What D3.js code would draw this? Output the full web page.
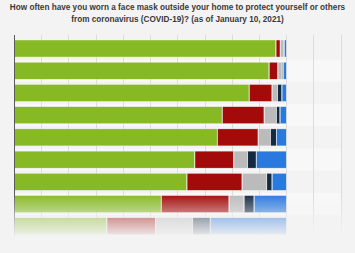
<!DOCTYPE html>
<html><head><meta charset="utf-8">
<script src="https://cdn.jsdelivr.net/npm/d3@7"></script>
<style>html,body{margin:0;padding:0;background:#f3f3f3;}svg{display:block;}</style>
</head><body><div id="chart"></div>
<script>
const titleLines = ["How often have you worn a face mask outside your home to protect yourself or others",
                    "from coronavirus (COVID-19)? (as of January 10, 2021)"];
const categories = ["Row 1","Row 2","Row 3","Row 4","Row 5","Row 6","Row 7","Row 8","Row 9"];
const seriesNames = ["Always","Frequently","Sometimes","Rarely","Not at all"];
const always     = [96.1, 93.6, 86.3, 76.4, 74.6, 66.3, 63.4, 54.0, 34.0];
const frequently = [1.6,  3.2,  8.4,  15.4, 15.0, 14.3, 20.3, 24.9, 17.9];
const sometimes  = [1.2,  1.6,  2.0,  4.5,  4.5,  5.1,  9.0,  5.5,  13.6];
const rarely     = [0.3,  0.4,  1.6,  1.3,  2.2,  3.2,  2.0,  3.7,  6.5];
const notAtAll   = [0.8,  1.2,  1.7,  2.4,  3.7,  11.1, 5.3,  11.9, 28.0];
const xTicks = [0,10,20,30,40,50,60,70,80,90,100,110,120];
const colors = ["#87b925","#a30b0b","#bbbbbb","#142a41","#2a79df"];

const W = 355, H = 253;
const svg = d3.select("#chart").append("svg").attr("width", W).attr("height", H);
const x = d3.scaleLinear().domain([0,120]).range([14, 340.7]);
const y = d3.scaleBand().domain(categories).range([37.4, 237.4]).paddingInner(0.235).paddingOuter(0.1175);
const step = y.step();

svg.append("rect").attr("width",W).attr("height",H).attr("fill","#f3f3f3");

// stripes
svg.append("g").selectAll("rect").data(categories).join("rect")
  .attr("x", x(0)).attr("width", x(120)-x(0))
  .attr("y", (d,i)=> 37.4 + i*step).attr("height", step)
  .attr("fill", (d,i)=> i%2 ? "#f8f8f8" : "#f3f3f3");

// gridlines
svg.append("g").selectAll("line").data(xTicks.slice(1)).join("line")
  .attr("x1", d=>Math.round(x(d))+0.5).attr("x2", d=>Math.round(x(d))+0.5)
  .attr("y1", 35).attr("y2", 240)
  .attr("stroke","#dcdcdc").attr("stroke-width",1);

// stacked bars
const table = categories.map((c,i)=>({cat:c, s0:always[i], s1:frequently[i], s2:sometimes[i], s3:rarely[i], s4:notAtAll[i]}));
const stack = d3.stack().keys(["s0","s1","s2","s3","s4"])(table);
svg.append("g").selectAll("g").data(stack).join("g")
  .attr("fill", (d,i)=>colors[i])
  .selectAll("rect").data(d=>d).join("rect")
  .attr("x", d=>x(d[0])+0.5)
  .attr("width", d=>Math.max(0, x(d[1])-x(d[0])-0.5))
  .attr("y", d=>y(d.data.cat)).attr("height", y.bandwidth())
  .attr("stroke","#f4f4f4").attr("stroke-width",0.4);

// axis line
svg.append("line").attr("x1",14.5).attr("x2",14.5).attr("y1",35).attr("y2",240)
  .attr("stroke","#5a5a5a").attr("stroke-width",1);

// fade overlay
const defs = svg.append("defs");
const gr = defs.append("linearGradient").attr("id","fade").attr("x1",0).attr("x2",0).attr("y1",0).attr("y2",1);
[[0,0],[0.3,0.45],[0.45,0.65],[0.75,1],[1,1]].forEach(([o,a])=>gr.append("stop").attr("offset",o).attr("stop-color","#f3f3f3").attr("stop-opacity",a));
svg.append("rect").attr("x",0).attr("width",W).attr("y",194).attr("height",H-194).attr("fill","url(#fade)");

// title
svg.append("g").selectAll("text").data(titleLines).join("text")
  .attr("x", 177.5).attr("y",(d,i)=>10+i*11.5)
  .attr("text-anchor","middle")
  .attr("font-family","Liberation Sans, Arial, sans-serif")
  .attr("font-size",8.2).attr("font-weight","bold").attr("fill","#3a3a3a")
  .text(d=>d);
</script></body></html>
